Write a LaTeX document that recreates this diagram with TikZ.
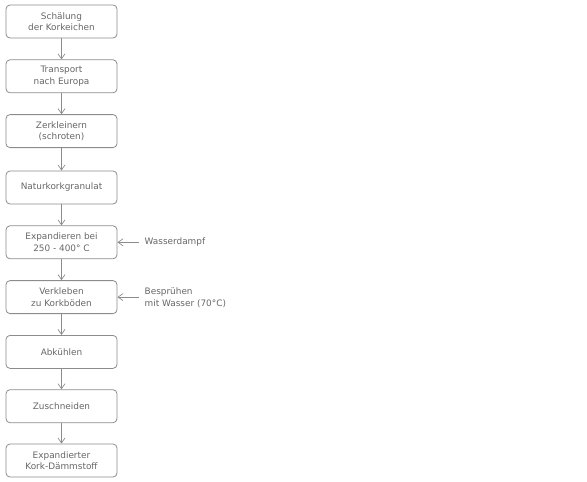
\documentclass[tikz,border=0pt]{standalone}
\usepackage{fontspec}
\setmainfont{DejaVu Sans}
\usetikzlibrary{arrows.meta}
\definecolor{boxline}{HTML}{8C8C8C}
\definecolor{txt}{HTML}{666666}
\begin{document}
\begin{tikzpicture}[x=1pt,y=1pt,
  stepbox/.style={draw=boxline, line width=0.8pt, rounded corners=4pt, minimum width=111pt, minimum height=33pt, align=center, text=txt, font=\fontsize{8.9}{11.5}\selectfont, inner sep=0pt},
  sidelabel/.style={anchor=west, align=left, text=txt, font=\fontsize{8.9}{11.5}\selectfont, inner sep=0pt},
  flow/.style={draw=boxline, line width=0.7pt, -{Straight Barb[length=5pt,width=7pt]}}]
\useasboundingbox (0,0) rectangle (587,-482);
\node[stepbox] (n1) at (61.5,-21.5) {Schälung\\der Korkeichen};
\node[stepbox] (n2) at (61.5,-76.3) {Transport\\nach Europa};
\node[stepbox] (n3) at (61.5,-131.1) {Zerkleinern\\(schroten)};
\node[stepbox] (n4) at (61.5,-187.5) {Naturkorkgranulat};
\node[stepbox] (n5) at (61.5,-242.3) {Expandieren bei\\250 - 400° C};
\node[stepbox] (n6) at (61.5,-297.1) {Verkleben\\zu Korkböden};
\node[stepbox] (n7) at (61.5,-351.9) {Abkühlen};
\node[stepbox] (n8) at (61.5,-406.2) {Zuschneiden};
\node[stepbox] (n9) at (61.5,-460.5) {Expandierter\\Kork-Dämmstoff};
\foreach \a/\b in {n1/n2,n2/n3,n3/n4,n4/n5,n5/n6,n6/n7,n7/n8,n8/n9}
  \draw[flow] (\a) -- (\b);
\node[sidelabel] (w) at (144.5,-242.3) {Wasserdampf};
\node[sidelabel] (b) at (144.5,-297.6) {Besprühen\\mit Wasser (70°C)};
\coordinate (wa) at (138.5,-242.3);
\coordinate (ba) at (138.5,-297.1);
\draw[flow] (wa) -- (n5.east);
\draw[flow] (ba) -- (n6.east);
\end{tikzpicture}
\end{document}
